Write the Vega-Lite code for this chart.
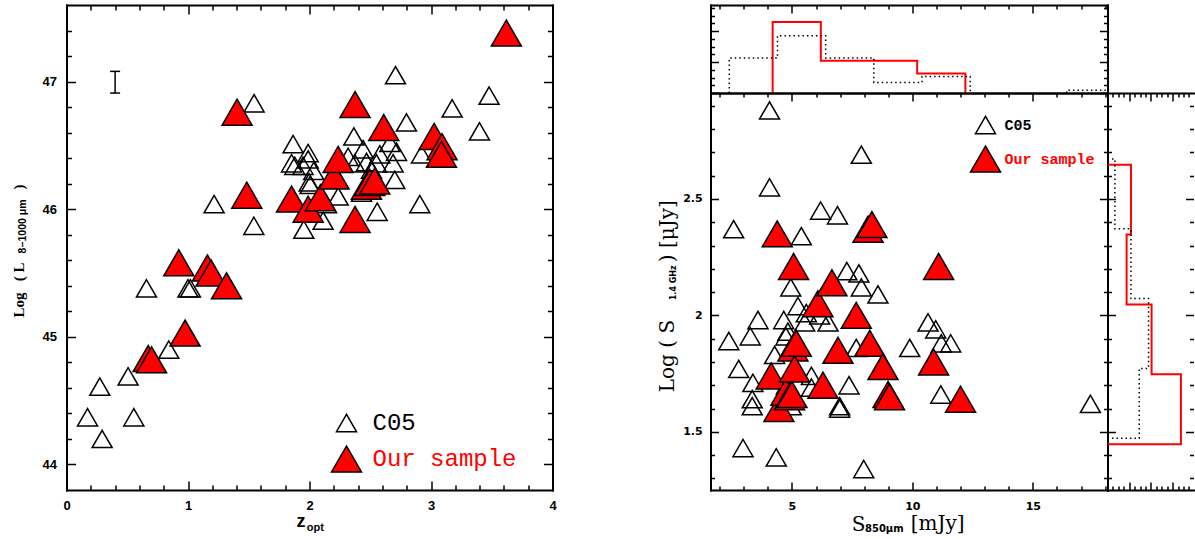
{
"$schema": "https://vega.github.io/schema/vega-lite/v6.json",
"background": "white",
"padding": {"left": 11.5, "top": 4, "right": 0, "bottom": 0},
"bounds": "flush",
"spacing": 158,
"datasets": {
"zL": [
{"sample":"C05","z":0.173,"L":44.37},{"sample":"C05","z":0.274,"L":44.61},{"sample":"C05","z":0.293,"L":44.20},{"sample":"C05","z":0.507,"L":44.69},{"sample":"C05","z":0.554,"L":44.37},{"sample":"C05","z":0.658,"L":45.38},{"sample":"C05","z":0.842,"L":44.90},{"sample":"C05","z":1.00,"L":45.38},{"sample":"C05","z":1.02,"L":45.38},{"sample":"C05","z":1.215,"L":46.04},{"sample":"C05","z":1.542,"L":45.87},{"sample":"C05","z":1.544,"L":46.83},{"sample":"C05","z":1.852,"L":46.36},{"sample":"C05","z":1.865,"L":46.51},{"sample":"C05","z":1.879,"L":46.34},{"sample":"C05","z":1.947,"L":46.34},{"sample":"C05","z":1.953,"L":45.84},{"sample":"C05","z":1.989,"L":46.44},{"sample":"C05","z":1.989,"L":46.39},{"sample":"C05","z":2.035,"L":46.30},{"sample":"C05","z":1.997,"L":46.21},{"sample":"C05","z":2.005,"L":46.19},{"sample":"C05","z":2.112,"L":45.91},{"sample":"C05","z":2.140,"L":46.04},{"sample":"C05","z":2.236,"L":46.10},{"sample":"C05","z":2.318,"L":46.41},{"sample":"C05","z":2.365,"L":46.57},{"sample":"C05","z":2.373,"L":46.36},{"sample":"C05","z":2.428,"L":46.13},{"sample":"C05","z":2.441,"L":46.47},{"sample":"C05","z":2.469,"L":46.37},{"sample":"C05","z":2.510,"L":46.31},{"sample":"C05","z":2.551,"L":46.36},{"sample":"C05","z":2.557,"L":45.98},{"sample":"C05","z":2.579,"L":46.43},{"sample":"C05","z":2.661,"L":46.52},{"sample":"C05","z":2.688,"L":46.36},{"sample":"C05","z":2.702,"L":46.23},{"sample":"C05","z":2.708,"L":47.05},{"sample":"C05","z":2.716,"L":46.45},{"sample":"C05","z":2.798,"L":46.68},{"sample":"C05","z":2.908,"L":46.04},{"sample":"C05","z":2.922,"L":46.43},{"sample":"C05","z":3.174,"L":46.79},{"sample":"C05","z":3.399,"L":46.61},{"sample":"C05","z":3.478,"L":46.89},
{"sample":"Our sample","z":0.672,"L":44.83},{"sample":"Our sample","z":0.70,"L":44.82},{"sample":"Our sample","z":0.924,"L":45.58},{"sample":"Our sample","z":0.976,"L":45.03},{"sample":"Our sample","z":1.16,"L":45.54},{"sample":"Our sample","z":1.19,"L":45.50},{"sample":"Our sample","z":1.317,"L":45.40},{"sample":"Our sample","z":1.404,"L":46.76},{"sample":"Our sample","z":1.484,"L":46.11},{"sample":"Our sample","z":1.852,"L":46.08},{"sample":"Our sample","z":1.989,"L":46.00},{"sample":"Our sample","z":2.09,"L":46.09},{"sample":"Our sample","z":2.202,"L":46.26},{"sample":"Our sample","z":2.236,"L":46.39},{"sample":"Our sample","z":2.375,"L":46.82},{"sample":"Our sample","z":2.375,"L":45.92},{"sample":"Our sample","z":2.469,"L":46.18},{"sample":"Our sample","z":2.496,"L":46.21},{"sample":"Our sample","z":2.537,"L":46.22},{"sample":"Our sample","z":2.611,"L":46.64},{"sample":"Our sample","z":3.026,"L":46.57},{"sample":"Our sample","z":3.091,"L":46.49},{"sample":"Our sample","z":3.086,"L":46.43},{"sample":"Our sample","z":3.62,"L":47.38}
],
"err": [{"ex":0.4,"elo":46.91,"ehi":47.08}],
"sS": [
{"sample":"C05","S":2.38,"R":1.89},{"sample":"C05","S":2.58,"R":2.37},{"sample":"C05","S":2.79,"R":1.77},{"sample":"C05","S":2.97,"R":1.43},{"sample":"C05","S":3.27,"R":1.91},{"sample":"C05","S":3.35,"R":1.64},{"sample":"C05","S":3.35,"R":1.61},{"sample":"C05","S":3.38,"R":1.71},{"sample":"C05","S":3.59,"R":1.98},{"sample":"C05","S":4.07,"R":2.88},{"sample":"C05","S":4.07,"R":2.55},{"sample":"C05","S":4.28,"R":1.83},{"sample":"C05","S":4.35,"R":1.39},{"sample":"C05","S":4.66,"R":1.98},{"sample":"C05","S":4.75,"R":1.91},{"sample":"C05","S":4.77,"R":1.70},{"sample":"C05","S":4.83,"R":1.93},{"sample":"C05","S":4.95,"R":2.12},{"sample":"C05","S":4.97,"R":1.61},{"sample":"C05","S":5.25,"R":2.04},{"sample":"C05","S":5.39,"R":2.34},{"sample":"C05","S":5.53,"R":1.97},{"sample":"C05","S":5.60,"R":2.01},{"sample":"C05","S":5.81,"R":1.74},{"sample":"C05","S":5.81,"R":1.69},{"sample":"C05","S":6.15,"R":2.00},{"sample":"C05","S":6.19,"R":2.45},{"sample":"C05","S":6.50,"R":1.97},{"sample":"C05","S":6.89,"R":2.43},{"sample":"C05","S":6.98,"R":1.61},{"sample":"C05","S":6.98,"R":1.60},{"sample":"C05","S":7.28,"R":2.19},{"sample":"C05","S":7.37,"R":1.70},{"sample":"C05","S":7.67,"R":1.86},{"sample":"C05","S":7.78,"R":2.18},{"sample":"C05","S":7.88,"R":2.69},{"sample":"C05","S":7.88,"R":2.12},{"sample":"C05","S":7.98,"R":1.34},{"sample":"C05","S":8.57,"R":2.09},{"sample":"C05","S":9.89,"R":1.86},{"sample":"C05","S":10.65,"R":1.97},{"sample":"C05","S":10.97,"R":1.94},{"sample":"C05","S":11.2,"R":1.88},{"sample":"C05","S":11.18,"R":1.66},{"sample":"C05","S":11.59,"R":1.88},{"sample":"C05","S":17.39,"R":1.62},
{"sample":"Our sample","S":4.14,"R":1.74},{"sample":"Our sample","S":4.39,"R":2.35},{"sample":"Our sample","S":4.46,"R":1.60},{"sample":"Our sample","S":4.75,"R":1.67},{"sample":"Our sample","S":4.9,"R":1.65},{"sample":"Our sample","S":5.0,"R":1.66},{"sample":"Our sample","S":5.04,"R":1.86},{"sample":"Our sample","S":5.07,"R":2.21},{"sample":"Our sample","S":5.11,"R":1.77},{"sample":"Our sample","S":5.18,"R":1.88},{"sample":"Our sample","S":6.08,"R":2.05},{"sample":"Our sample","S":6.29,"R":1.70},{"sample":"Our sample","S":6.66,"R":2.14},{"sample":"Our sample","S":6.91,"R":1.85},{"sample":"Our sample","S":7.67,"R":2.00},{"sample":"Our sample","S":8.16,"R":2.37},{"sample":"Our sample","S":8.23,"R":1.88},{"sample":"Our sample","S":8.32,"R":2.39},{"sample":"Our sample","S":8.78,"R":1.78},{"sample":"Our sample","S":8.99,"R":1.66},{"sample":"Our sample","S":9.05,"R":1.65},{"sample":"Our sample","S":10.88,"R":1.80},{"sample":"Our sample","S":11.09,"R":2.21},{"sample":"Our sample","S":12.0,"R":1.64}
],
"histTop": [
{"sample":"Our sample","seg":1,"k":0,"S":4.2,"f":0},{"sample":"Our sample","seg":1,"k":1,"S":4.2,"f":0.458},{"sample":"Our sample","seg":1,"k":2,"S":6.2,"f":0.208},{"sample":"Our sample","seg":1,"k":3,"S":8.2,"f":0.208},{"sample":"Our sample","seg":1,"k":4,"S":10.2,"f":0.126},{"sample":"Our sample","seg":1,"k":5,"S":12.2,"f":0},
{"sample":"C05","seg":1,"k":0,"S":2.4,"f":0},{"sample":"C05","seg":1,"k":1,"S":2.4,"f":0.226},{"sample":"C05","seg":1,"k":2,"S":4.4,"f":0.37},{"sample":"C05","seg":1,"k":3,"S":6.4,"f":0.226},{"sample":"C05","seg":1,"k":4,"S":8.4,"f":0.068},{"sample":"C05","seg":1,"k":5,"S":10.4,"f":0.107},{"sample":"C05","seg":1,"k":6,"S":12.4,"f":0},
{"sample":"C05","seg":2,"k":0,"S":16.4,"f":0},{"sample":"C05","seg":2,"k":1,"S":16.4,"f":0.017},{"sample":"C05","seg":2,"k":2,"S":18.4,"f":0}
],
"histRight": [
{"sample":"Our sample","k":0,"f":0,"R":2.647},{"sample":"Our sample","k":1,"f":0.108,"R":2.647},{"sample":"Our sample","k":2,"f":0.088,"R":2.347},{"sample":"Our sample","k":3,"f":0.203,"R":2.047},{"sample":"Our sample","k":4,"f":0.338,"R":1.747},{"sample":"Our sample","k":5,"f":0,"R":1.447},
{"sample":"C05","k":0,"f":0,"R":2.672},{"sample":"C05","k":1,"f":0.034,"R":2.672},{"sample":"C05","k":2,"f":0.108,"R":2.372},{"sample":"C05","k":3,"f":0.189,"R":2.072},{"sample":"C05","k":4,"f":0.146,"R":1.772},{"sample":"C05","k":5,"f":0,"R":1.472}
]
},
"resolve": {"scale": {"fill": "independent", "size": "independent"}, "legend": {"fill": "independent", "size": "independent"}},
"hconcat": [
{
"width": 486, "height": 485,
"layer": [
{
"data": {"name": "zL"},
"transform": [{"filter": "datum.sample === 'C05'"}],
"mark": {"type": "point", "shape": "triangle-up", "filled": true, "stroke": "black", "strokeWidth": 1.5, "opacity": 1},
"encoding": {
"x": {"field": "z", "type": "quantitative", "scale": {"domain": [0, 4], "nice": false, "zero": false},
 "axis": {"orient": "bottom", "values": [0,0.2,0.4,0.6,0.8,1,1.2,1.4,1.6,1.8,2,2.2,2.4,2.6,2.8,3,3.2,3.4,3.6,3.8,4], "format": "~g", "labelExpr": "datum.value % 1 === 0 ? datum.label : ''", "tickSize": {"condition": {"test": "datum.value % 1 === 0", "value": -9}, "value": -5}, "labelPadding": 18.5, "labelFont": "Liberation Sans", "labelFontWeight": "bold", "labelFontSize": 13, "labelBaseline": "top", "title": "z", "titleFont": "Liberation Sans", "titleFontWeight": "bold", "titleFontSize": 18, "titleX": 234, "titleY": 36.7, "titleAlign": "center", "titleBaseline": "alphabetic", "titleAngle": 0}},
"y": {"field": "L", "type": "quantitative", "scale": {"domain": [43.8, 47.6], "nice": false, "zero": false},
 "axis": {"orient": "left", "values": [44,44.2,44.4,44.6,44.8,45,45.2,45.4,45.6,45.8,46,46.2,46.4,46.6,46.8,47,47.2,47.4], "format": "~g", "labelExpr": "datum.value % 1 === 0 ? datum.label : ''", "tickSize": {"condition": {"test": "datum.value % 1 === 0", "value": -9}, "value": -5}, "labelPadding": 19, "labelFont": "Liberation Sans", "labelFontWeight": "bold", "labelFontSize": 13, "title": "Log\u00a0\u00a0\u00a0(\u00a0L", "titleFont": "Liberation Serif", "titleFontWeight": "bold", "titleFontSize": 15, "titleX": -48, "titleY": 312, "titleAngle": 270, "titleAlign": "left", "titleBaseline": "middle"}},
"fill": {"field": "sample", "type": "nominal", "scale": {"domain": ["C05", "Our sample"], "range": ["transparent", "#ff0000"]},
 "legend": {"orient": "none", "legendX": 264, "legendY": 406, "title": null, "direction": "vertical", "labelFont": "Liberation Mono", "labelFontSize": 24, "labelFontWeight": "normal", "labelOffset": 10, "rowPadding": 8, "padding": 0, "symbolType": "triangle-up", "symbolStrokeColor": "black", "symbolStrokeWidth": 1.5, "symbolOpacity": 1, "labelBaseline": "middle", "encode": {"labels": {"update": {"fill": {"signal": "datum.value === 'Our sample' ? '#ff0000' : '#000000'"}}}}}},
"size": {"field": "sample", "type": "ordinal", "scale": {"domain": ["C05", "Our sample"], "range": [400, 900]}}
}
},
{
"data": {"name": "zL"},
"transform": [{"filter": "datum.sample === 'Our sample'"}],
"mark": {"type": "point", "shape": "triangle-up", "filled": true, "stroke": "black", "strokeWidth": 1.5, "opacity": 1},
"encoding": {
"x": {"field": "z", "type": "quantitative", "scale": {"domain": [0, 4], "nice": false, "zero": false},
 "axis": {"orient": "top", "values": [0,0.2,0.4,0.6,0.8,1,1.2,1.4,1.6,1.8,2,2.2,2.4,2.6,2.8,3,3.2,3.4,3.6,3.8,4], "labels": false, "tickSize": {"condition": {"test": "datum.value % 1 === 0", "value": -9}, "value": -5}, "title": "opt", "titleFont": "Liberation Sans", "titleFontWeight": "bold", "titleFontSize": 11, "titleX": 239.7, "titleY": 525, "titleAlign": "left", "titleBaseline": "alphabetic", "titleAngle": 0}},
"y": {"field": "L", "type": "quantitative", "scale": {"domain": [43.8, 47.6], "nice": false, "zero": false},
 "axis": {"orient": "right", "values": [44,44.2,44.4,44.6,44.8,45,45.2,45.4,45.6,45.8,46,46.2,46.4,46.6,46.8,47,47.2,47.4], "labels": false, "tickSize": {"condition": {"test": "datum.value % 1 === 0", "value": -9}, "value": -5}, "title": "8−1000 μm", "titleFont": "Liberation Sans", "titleFontWeight": "bold", "titleFontSize": 10.5, "titleX": -530, "titleY": 248, "titleAngle": 270, "titleAlign": "left", "titleBaseline": "middle"}},
"fill": {"field": "sample", "type": "nominal", "scale": {"domain": ["C05", "Our sample"], "range": ["transparent", "#ff0000"]}},
"size": {"field": "sample", "type": "ordinal", "scale": {"domain": ["C05", "Our sample"], "range": [400, 900]}}
}
},
{
"data": {"name": "err"},
"mark": {"type": "rule", "color": "black", "strokeWidth": 1.5},
"encoding": {
"x": {"field": "ex", "type": "quantitative", "scale": {"domain": [0, 4], "nice": false, "zero": false}, "axis": null},
"y": {"field": "elo", "type": "quantitative", "scale": {"domain": [43.8, 47.6], "nice": false, "zero": false}, "axis": null},
"y2": {"field": "ehi"}
}
},
{
"data": {"name": "err"},
"mark": {"type": "tick", "orient": "horizontal", "size": 10, "thickness": 1.5, "color": "black", "opacity": 1},
"encoding": {
"x": {"field": "ex", "type": "quantitative", "scale": {"domain": [0, 4], "nice": false, "zero": false}, "axis": null},
"y": {"field": "elo", "type": "quantitative", "scale": {"domain": [43.8, 47.6], "nice": false, "zero": false}, "axis": null}
}
},
{
"data": {"name": "err"},
"mark": {"type": "tick", "orient": "horizontal", "size": 10, "thickness": 1.5, "color": "black", "opacity": 1},
"encoding": {
"x": {"field": "ex", "type": "quantitative", "scale": {"domain": [0, 4], "nice": false, "zero": false}, "axis": null},
"y": {"field": "ehi", "type": "quantitative", "scale": {"domain": [43.8, 47.6], "nice": false, "zero": false}, "axis": null}
}
}
]
},
{
"vconcat": [
{
"width": 397, "height": 88,
"data": {"name": "histTop"},
"layer": [
{
"transform": [{"filter": "datum.sample === 'Our sample'"}],
"mark": {"type": "line", "interpolate": "step-after", "color": "#ff0000", "strokeWidth": 2, "clip": true},
"encoding": {
"x": {"field": "S", "type": "quantitative", "scale": {"domain": [1.62, 18.1], "nice": false, "zero": false},
 "axis": {"orient": "top", "values": [2,3,4,5,6,7,8,9,10,11,12,13,14,15,16,17,18], "labels": false, "tickSize": {"condition": {"test": "datum.value % 5 === 0", "value": -8}, "value": -4}, "title": null}},
"y": {"field": "f", "type": "quantitative", "scale": {"domain": [0, 0.568], "nice": false, "zero": false},
 "axis": {"orient": "left", "values": [0,0.05,0.1,0.15,0.2,0.25,0.3,0.35,0.4,0.45,0.5,0.55], "labels": false, "tickSize": {"condition": {"test": "abs(datum.value*5 - round(datum.value*5)) < 0.001", "value": -8}, "value": -4}, "title": ")", "titleFont": "Liberation Serif", "titleFontWeight": "bold", "titleFontSize": 15, "titleX": -692, "titleY": 184, "titleAngle": 270, "titleAlign": "left", "titleBaseline": "middle"}},
"detail": {"field": "seg"},
"order": {"field": "k"}
}
},
{
"transform": [{"filter": "datum.sample === 'C05'"}],
"mark": {"type": "line", "interpolate": "step-after", "color": "black", "strokeWidth": 1.5, "strokeDash": [1.5, 3], "clip": true},
"encoding": {
"x": {"field": "S", "type": "quantitative", "scale": {"domain": [1.62, 18.1], "nice": false, "zero": false},
 "axis": {"orient": "bottom", "ticks": false, "labels": false, "title": "[mJy]", "titleFont": "DejaVu Serif", "titleFontWeight": "normal", "titleFontSize": 20, "titleX": 199.7, "titleY": 436, "titleAlign": "left", "titleBaseline": "alphabetic", "titleAngle": 0}},
"y": {"field": "f", "type": "quantitative", "scale": {"domain": [0, 0.568], "nice": false, "zero": false},
 "axis": {"orient": "right", "values": [0,0.05,0.1,0.15,0.2,0.25,0.3,0.35,0.4,0.45,0.5,0.55], "labels": false, "tickSize": {"condition": {"test": "abs(datum.value*5 - round(datum.value*5)) < 0.001", "value": -8}, "value": -4}, "title": null}},
"detail": {"field": "seg"},
"order": {"field": "k"}
}
}
]
},
{
"hconcat": [
{
"width": 397, "height": 397,
"data": {"name": "sS"},
"layer": [
{
"transform": [{"filter": "datum.sample === 'C05'"}],
"mark": {"type": "point", "shape": "triangle-up", "filled": true, "stroke": "black", "strokeWidth": 1.5, "opacity": 1},
"encoding": {
"x": {"field": "S", "type": "quantitative", "scale": {"domain": [1.62, 18.1], "nice": false, "zero": false},
 "axis": {"orient": "bottom", "values": [2,3,4,5,6,7,8,9,10,11,12,13,14,15,16,17,18], "format": "~g", "labelExpr": "datum.value % 5 === 0 ? datum.label : ''", "tickSize": {"condition": {"test": "datum.value % 5 === 0", "value": -8}, "value": -4}, "labelPadding": 18, "labelFont": "DejaVu Sans", "labelFontWeight": "bold", "labelFontSize": 11, "labelBaseline": "top", "title": "S", "titleFont": "DejaVu Serif", "titleFontWeight": "normal", "titleFontSize": 20, "titleX": 140.7, "titleY": 40, "titleAlign": "left", "titleBaseline": "alphabetic", "titleAngle": 0}},
"y": {"field": "R", "type": "quantitative", "scale": {"domain": [1.25, 2.955], "nice": false, "zero": false},
 "axis": {"orient": "left", "values": [1.3,1.4,1.5,1.6,1.7,1.8,1.9,2,2.1,2.2,2.3,2.4,2.5,2.6,2.7,2.8,2.9], "format": "~g", "labelExpr": "abs(datum.value*2 - round(datum.value*2)) < 0.001 ? datum.label : ''", "tickSize": {"condition": {"test": "abs(datum.value*2 - round(datum.value*2)) < 0.001", "value": -8}, "value": -4}, "labelPadding": 16.3, "labelFont": "DejaVu Sans", "labelFontWeight": "bold", "labelFontSize": 11, "title": "Log ( S", "titleFont": "DejaVu Serif", "titleFontWeight": "normal", "titleFontSize": 20, "titleX": -43, "titleY": 298.7, "titleAngle": 270, "titleAlign": "left", "titleBaseline": "middle"}},
"fill": {"field": "sample", "type": "nominal", "scale": {"domain": ["C05", "Our sample"], "range": ["transparent", "#ff0000"]},
 "legend": {"orient": "none", "legendX": 259, "legendY": 21, "title": null, "direction": "vertical", "labelFont": "Liberation Mono", "labelFontSize": 15, "labelFontWeight": "bold", "labelOffset": 3, "rowPadding": 6, "padding": 0, "symbolType": "triangle-up", "symbolStrokeColor": "black", "symbolStrokeWidth": 1.5, "symbolOpacity": 1, "labelBaseline": "middle", "encode": {"labels": {"update": {"fill": {"signal": "datum.value === 'Our sample' ? '#ff0000' : '#000000'"}}}}}},
"size": {"field": "sample", "type": "ordinal", "scale": {"domain": ["C05", "Our sample"], "range": [400, 900]}}
}
},
{
"transform": [{"filter": "datum.sample === 'Our sample'"}],
"mark": {"type": "point", "shape": "triangle-up", "filled": true, "stroke": "black", "strokeWidth": 1.5, "opacity": 1},
"encoding": {
"x": {"field": "S", "type": "quantitative", "scale": {"domain": [1.62, 18.1], "nice": false, "zero": false},
 "axis": {"orient": "top", "values": [2,3,4,5,6,7,8,9,10,11,12,13,14,15,16,17,18], "labels": false, "tickSize": {"condition": {"test": "datum.value % 5 === 0", "value": -8}, "value": -4}, "title": "850μm", "titleFont": "DejaVu Sans", "titleFontWeight": "bold", "titleFontSize": 10, "titleX": 154, "titleY": 438.7, "titleAlign": "left", "titleBaseline": "alphabetic", "titleAngle": 0}},
"y": {"field": "R", "type": "quantitative", "scale": {"domain": [1.25, 2.955], "nice": false, "zero": false},
 "axis": {"orient": "right", "values": [1.3,1.4,1.5,1.6,1.7,1.8,1.9,2,2.1,2.2,2.3,2.4,2.5,2.6,2.7,2.8,2.9], "labels": false, "tickSize": {"condition": {"test": "abs(datum.value*2 - round(datum.value*2)) < 0.001", "value": -8}, "value": -4}, "title": "1.4 GHz", "titleFont": "DejaVu Sans", "titleFontWeight": "bold", "titleFontSize": 8, "titleX": -434, "titleY": 206.7, "titleAngle": 270, "titleAlign": "left", "titleBaseline": "middle"}},
"fill": {"field": "sample", "type": "nominal", "scale": {"domain": ["C05", "Our sample"], "range": ["transparent", "#ff0000"]}},
"size": {"field": "sample", "type": "ordinal", "scale": {"domain": ["C05", "Our sample"], "range": [400, 900]}}
}
}
]
},
{
"width": 86, "height": 397,
"data": {"name": "histRight"},
"layer": [
{
"transform": [{"filter": "datum.sample === 'Our sample'"}],
"mark": {"type": "line", "interpolate": "step-before", "color": "#ff0000", "strokeWidth": 2, "clip": true},
"encoding": {
"x": {"field": "f", "type": "quantitative", "scale": {"domain": [0, 0.396], "nice": false, "zero": false},
 "axis": {"orient": "bottom", "values": [0,0.025,0.05,0.075,0.1,0.125,0.15,0.175,0.2,0.225,0.25,0.275,0.3,0.325,0.35,0.375], "labels": false, "tickSize": {"condition": {"test": "abs(datum.value*10 - round(datum.value*10)) < 0.001", "value": -8}, "value": -4}, "title": null}},
"y": {"field": "R", "type": "quantitative", "scale": {"domain": [1.25, 2.955], "nice": false, "zero": false},
 "axis": {"orient": "left", "values": [1.3,1.4,1.5,1.6,1.7,1.8,1.9,2,2.1,2.2,2.3,2.4,2.5,2.6,2.7,2.8,2.9], "labels": false, "tickSize": {"condition": {"test": "abs(datum.value*2 - round(datum.value*2)) < 0.001", "value": -8}, "value": -4}, "title": ") [μJy]", "titleFont": "DejaVu Serif", "titleFontWeight": "normal", "titleFontSize": 20, "titleX": -440, "titleY": 168.7, "titleAngle": 270, "titleAlign": "left", "titleBaseline": "middle"}},
"order": {"field": "k"}
}
},
{
"transform": [{"filter": "datum.sample === 'C05'"}],
"mark": {"type": "line", "interpolate": "step-before", "color": "black", "strokeWidth": 1.5, "strokeDash": [1.5, 3], "clip": true},
"encoding": {
"x": {"field": "f", "type": "quantitative", "scale": {"domain": [0, 0.396], "nice": false, "zero": false},
 "axis": {"orient": "top", "values": [0,0.025,0.05,0.075,0.1,0.125,0.15,0.175,0.2,0.225,0.25,0.275,0.3,0.325,0.35,0.375], "labels": false, "tickSize": {"condition": {"test": "abs(datum.value*10 - round(datum.value*10)) < 0.001", "value": -8}, "value": -4}, "title": null}},
"y": {"field": "R", "type": "quantitative", "scale": {"domain": [1.25, 2.955], "nice": false, "zero": false},
 "axis": {"orient": "right", "domain": false, "values": [1.3,1.4,1.5,1.6,1.7,1.8,1.9,2,2.1,2.2,2.3,2.4,2.5,2.6,2.7,2.8,2.9], "labels": false, "tickSize": {"condition": {"test": "abs(datum.value*2 - round(datum.value*2)) < 0.001", "value": -8}, "value": -4}, "title": null}},
"order": {"field": "k"}
}
}
]
}
],
"spacing": 0,
"bounds": "flush",
"resolve": {"scale": {"fill": "independent", "size": "independent"}, "legend": {"fill": "independent", "size": "independent"}}
}
],
"spacing": 0,
"bounds": "flush",
"resolve": {"scale": {"fill": "independent", "size": "independent"}, "legend": {"fill": "independent", "size": "independent"}}
}
],
"config": {
"view": {"stroke": null},
"axis": {"grid": false, "domainColor": "black", "domainWidth": 2, "domainCap": "square", "tickColor": "black", "tickWidth": 1.5, "labelColor": "black", "titleColor": "black", "labelFlush": false, "labelOverlap": false, "labelBound": false}
}
}
